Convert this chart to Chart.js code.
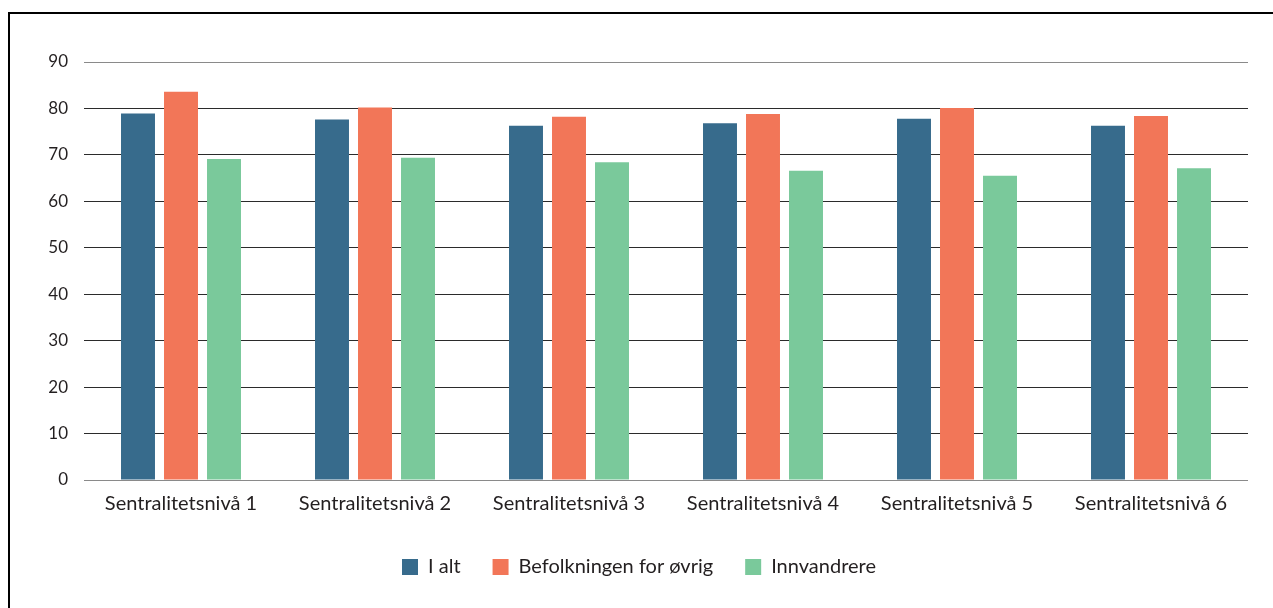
<!DOCTYPE html>
<html>
<head>
<meta charset="utf-8">
<script src="https://cdn.jsdelivr.net/npm/chart.js@4.4.1/dist/chart.umd.min.js"></script>
<style>
  html, body { margin: 0; padding: 0; background: #ffffff; }
  #ramme {
    position: absolute; left: 8px; top: 12px; width: 1265px; height: 596px;
    border-top: 2px solid #000; border-left: 2px solid #000; box-sizing: border-box;
  }
  #boks { position: absolute; left: 0; top: 0; width: 1273px; height: 608px; }
</style>
</head>
<body>
<div id="ramme"></div>
<div id="boks"><canvas id="graf" width="1273" height="608"></canvas></div>
<script>
// Kategorier og verdier
const kategorier = ["Sentralitetsnivå 1", "Sentralitetsnivå 2", "Sentralitetsnivå 3",
  "Sentralitetsnivå 4", "Sentralitetsnivå 5", "Sentralitetsnivå 6"];
const iAlt = [78.9, 77.6, 76.3, 76.8, 77.8, 76.3];
const befolkningenForOvrig = [83.6, 80.2, 78.2, 78.8, 80.1, 78.4];
const innvandrere = [69.1, 69.4, 68.4, 66.6, 65.5, 67.1];
const yTicks = [0, 10, 20, 30, 40, 50, 60, 70, 80, 90];

const tekstFarge = "#231f20";
const skrift = "Lato, sans-serif";

const config = {
  type: "bar",
  data: {
    labels: kategorier,
    datasets: [
      { label: "I alt", data: iAlt, backgroundColor: "#376b8c" },
      { label: "Befolkningen for øvrig", data: befolkningenForOvrig, backgroundColor: "#f27658" },
      { label: "Innvandrere", data: innvandrere, backgroundColor: "#7ac99b" },
    ],
  },
  options: {
    responsive: false,
    animation: false,
    layout: { padding: { left: 30, right: 25, top: 62, bottom: 21 } },
    datasets: {
      bar: { categoryPercentage: 0.665, barPercentage: 0.79, borderWidth: 0 },
    },
    plugins: {
      tooltip: { enabled: false },
      legend: {
        position: "bottom",
        labels: {
          boxWidth: 16, boxHeight: 16, padding: 32,
          color: tekstFarge, font: { family: skrift, size: 20 },
        },
      },
    },
    scales: {
      x: {
        grid: { display: false },
        border: { display: false },
        ticks: { color: tekstFarge, font: { family: skrift, size: 20 }, padding: 4, maxRotation: 0 },
        afterFit: (akse) => { akse.height = 45; },
      },
      y: {
        min: 0, max: 90,
        afterBuildTicks: (akse) => { akse.ticks = yTicks.map((v) => ({ value: v })); },
        grid: {
          drawTicks: false,
          lineWidth: 1,
          color: (c) => (c.tick.value === 0 || c.tick.value === 90 ? "#8a8a8a" : "#2b2b2b"),
        },
        border: { display: false },
        ticks: { color: tekstFarge, font: { family: skrift, size: 17 }, padding: 16 },
        afterFit: (akse) => { akse.width = 54; },
      },
    },
  },
};

const ctx = document.getElementById("graf").getContext("2d");
new Chart(ctx, config);
</script>
</body>
</html>
